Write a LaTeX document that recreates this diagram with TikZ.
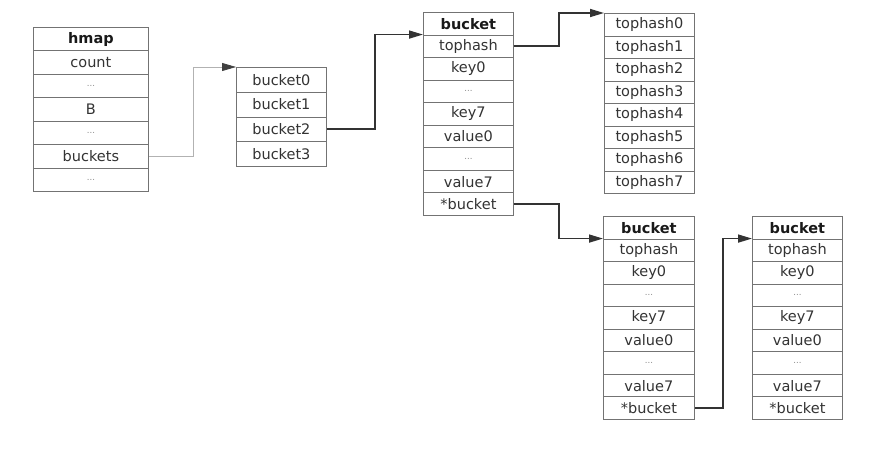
\documentclass[tikz,border=0pt]{standalone}
\usepackage{fontspec}
\setmainfont{DejaVu Sans}
\usetikzlibrary{arrows.meta, positioning, calc}

\newcommand\skipdots{{\fontsize{8.5}{8.5}\selectfont\color{black!45}...}}

\begin{document}
\begin{tikzpicture}[
    x=1pt, y=-1pt,
    cell/.style={draw=black!55, line width=0.8pt, fill=white, text=black!80, minimum width=90pt,
        inner sep=0pt, anchor=north west, font=\fontsize{14.5}{16}\selectfont},
    head/.style={cell, font=\fontsize{14.5}{16}\selectfont\bfseries, text=black!90},
    link/.style={draw=black!80, line width=1.6pt, -{Triangle[length=14pt, width=8pt]}},
    thinlink/.style={draw=black!30, line width=0.8pt, -{Triangle[length=14pt, width=8pt, color=black!75]}}
]

\useasboundingbox (0,0) rectangle (871,453);

% ===== hmap =====
\begin{scope}[cell/.append style={minimum width=115pt, minimum height=23.43pt}]
    \node[head] (hm-0) at (33,27) {hmap};
    \foreach \txt [count=\i] in {count,\skipdots,B,\skipdots,buckets,\skipdots}
        \node[cell] (hm-\i) at (33,27+\i*23.43) {\txt};
\end{scope}

% ===== bucket array =====
\begin{scope}[cell/.append style={minimum height=24.75pt}]
    \foreach \txt [count=\i from 0] in {bucket0,bucket1,bucket2,bucket3}
        \node[cell] (arr-\i) at (236,67+\i*24.75) {\txt};
\end{scope}

% ===== bucket =====
\begin{scope}[cell/.append style={minimum height=22.56pt}]
    \node[head] (bk-0) at (423,12) {bucket};
    \foreach \txt [count=\i] in {tophash,key0,\skipdots,key7,value0,\skipdots,value7,*bucket}
        \node[cell] (bk-\i) at (423,12+\i*22.56) {\txt};
\end{scope}

% ===== tophash array =====
\begin{scope}[cell/.append style={minimum height=22.5pt}]
    \foreach \i in {0,...,7}
        \node[cell] (th-\i) at (604,13+\i*22.5) {tophash\i};
\end{scope}

% ===== overflow buckets =====
\begin{scope}[cell/.append style={minimum height=22.56pt}]
    \node[head, minimum width=91pt] (bkb-0) at (603,216) {bucket};
    \foreach \txt [count=\i] in {tophash,key0,\skipdots,key7,value0,\skipdots,value7,*bucket}
        \node[cell, minimum width=91pt] (bkb-\i) at (603,216+\i*22.56) {\txt};

    \node[head] (bkc-0) at (752,216) {bucket};
    \foreach \txt [count=\i] in {tophash,key0,\skipdots,key7,value0,\skipdots,value7,*bucket}
        \node[cell] (bkc-\i) at (752,216+\i*22.56) {\txt};
\end{scope}

% ===== pointers =====
\draw[thinlink] (hm-5.east) -| ([xshift=-43pt]arr-0.north west) -- (arr-0.north west);
\draw[link] (arr-2.east) -| ([xshift=-48pt]bk-1.north west) -- (bk-1.north west);
\draw[link] (bk-1.east) -| ([xshift=-45pt]th-0.north west) -- (th-0.north west);
\draw[link] (bk-8.east) -| ([xshift=-44pt]bkb-1.north west) -- (bkb-1.north west);
\draw[link] (bkb-8.east) -| ([xshift=-29pt]bkc-1.north west) -- (bkc-1.north west);

\end{tikzpicture}
\end{document}
